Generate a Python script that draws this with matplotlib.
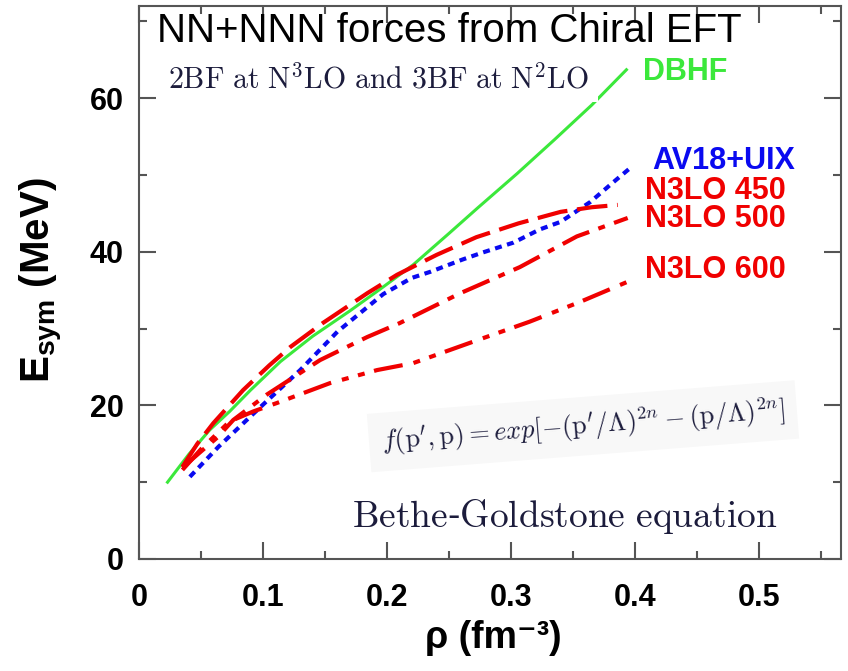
import matplotlib
matplotlib.use("Agg")
import matplotlib.pyplot as plt
from matplotlib.ticker import MultipleLocator

plt.rcParams['font.family'] = ['Liberation Sans', 'DejaVu Sans']
plt.rcParams['mathtext.fontset'] = 'custom'
plt.rcParams['mathtext.rm'] = 'Liberation Sans:bold'
plt.rcParams['mathtext.bf'] = 'Liberation Sans:bold'
plt.rcParams['mathtext.it'] = 'Liberation Sans:bold'
plt.rcParams['lines.scale_dashes'] = False

# data
dbhf_x = [0.023, 0.040, 0.057, 0.073, 0.090, 0.114, 0.140, 0.170, 0.195, 0.221,
          0.250, 0.273, 0.305, 0.335, 0.365, 0.393]
dbhf_y = [10.0, 13.6, 16.8, 19.2, 22.0, 25.7, 29.0, 32.3, 35.2, 38.3,
          42.4, 45.7, 50.2, 54.6, 59.1, 63.7]

av18_x = [0.041, 0.064, 0.098, 0.130, 0.160, 0.197, 0.220, 0.235, 0.261, 0.277,
          0.302, 0.323, 0.340, 0.364, 0.382, 0.396]
av18_y = [10.7, 14.6, 19.8, 24.6, 29.6, 34.5, 36.6, 37.4, 39.0, 39.9,
          41.2, 42.9, 43.9, 46.5, 49.0, 50.9]

n450_x = [0.035, 0.047, 0.060, 0.084, 0.105, 0.122, 0.148, 0.184, 0.208, 0.240,
          0.272, 0.306, 0.340, 0.365, 0.386]
n450_y = [12.0, 15.0, 17.7, 22.0, 25.2, 27.6, 30.7, 34.6, 37.0, 39.6,
          41.9, 43.7, 45.2, 45.8, 46.1]

n500_x = [0.035, 0.050, 0.063, 0.076, 0.103, 0.146, 0.184, 0.210, 0.259, 0.307,
          0.353, 0.394]
n500_y = [11.9, 14.0, 15.8, 18.1, 21.4, 25.9, 28.9, 30.7, 34.6, 38.0, 42.0, 44.4]

n600_x = [0.035, 0.050, 0.073, 0.092, 0.111, 0.154, 0.192, 0.221, 0.273, 0.315,
          0.356, 0.394]
n600_y = [11.6, 14.3, 17.9, 19.2, 20.3, 22.9, 24.6, 25.5, 28.5, 30.9, 33.5, 36.1]

xticks = [0, 0.1, 0.2, 0.3, 0.4, 0.5]
xtick_labels = ['0', '0.1', '0.2', '0.3', '0.4', '0.5']
yticks = [0, 20, 40, 60]
ytick_labels = ['0', '20', '40', '60']

green = '#3be83b'
blue = '#0a0af0'
red = '#f00000'
ink = '#1c1c3c'
spine_col = '#555555'

fig = plt.figure(figsize=(8.48, 6.71), dpi=100)
ax = fig.add_axes([139 / 848, 112 / 671, 702 / 848, 553 / 671])

ax.plot(dbhf_x, dbhf_y, color=green, lw=2.2, zorder=3)
ax.plot(av18_x, av18_y, color=blue, lw=3, dashes=(5, 4), zorder=3)
ax.plot(n450_x, n450_y, color=red, lw=3, dashes=(22, 7), zorder=3)
ax.plot(n500_x, n500_y, color=red, lw=3, dashes=(21, 7, 5, 7), zorder=3)
ax.plot(n600_x, n600_y, color=red, lw=3, dashes=(21, 8, 5, 7, 5, 7), zorder=3)

lab = dict(fontsize=22, fontweight='bold', va='baseline', ha='left')
ax.text(0.406, 62.4, 'DBHF', color=green, **lab)
ax.text(0.414, 50.8, 'AV18+UIX', color=blue, **lab)
ax.text(0.408, 46.9, 'N3LO 450', color=red, **lab)
ax.text(0.408, 43.2, 'N3LO 500', color=red, **lab)
ax.text(0.408, 36.6, 'N3LO 600', color=red, **lab)

ax.text(0.026, 0.935, 'NN+NNN forces from Chiral EFT', transform=ax.transAxes,
        fontsize=29, color='black', va='baseline', ha='left', zorder=6)
ax.text(0.042, 0.852, r'$\mathrm{2BF\ at\ N^3LO\ and\ 3BF\ at\ N^2LO}$',
        transform=ax.transAxes, fontsize=21.5, color=ink, math_fontfamily='cm',
        va='baseline', ha='left', zorder=5,
        bbox=dict(facecolor='white', edgecolor='none', pad=6))
ax.text(0.196, 14.2,
        r"$f(\mathrm{p}^{\prime},\mathrm{p}) = exp[-(\mathrm{p}^{\prime}/\Lambda)^{2n}"
        r" - (\mathrm{p}/\Lambda)^{2n}]$",
        fontsize=19, color=ink, math_fontfamily='cm', rotation=4.5,
        rotation_mode='anchor', va='baseline', ha='left', zorder=5,
        bbox=dict(facecolor='#f8f8f8', edgecolor='none', pad=9))
ax.text(0.172, 4.2, r'$\mathrm{Bethe}$-$\mathrm{Goldstone\ equation}$', fontsize=27,
        color=ink, math_fontfamily='cm', va='baseline', ha='left', zorder=5)

ax.set_xlim(0, 0.566)
ax.set_ylim(0, 72)
ax.set_xticks(xticks)
ax.set_xticklabels(xtick_labels)
ax.set_yticks(yticks)
ax.set_yticklabels(ytick_labels)
ax.xaxis.set_minor_locator(MultipleLocator(0.05))
ax.yaxis.set_minor_locator(MultipleLocator(10))
ax.tick_params(which='both', direction='in', top=True, right=True,
               color=spine_col, width=1.5)
ax.tick_params(which='major', length=12, labelsize=22)
ax.tick_params(which='minor', length=6)
ax.tick_params(axis='x', which='major', pad=17)
ax.tick_params(axis='y', which='major', pad=11)
for t in ax.get_xticklabels() + ax.get_yticklabels():
    t.set_fontweight('bold')
for s in ax.spines.values():
    s.set_color(spine_col)
    s.set_linewidth(1.5)

ax.set_xlabel('ρ (fm\u207b\u00b3)', fontsize=27, fontweight='bold')
ax.xaxis.set_label_coords(0.505, -0.11)
ax.set_ylabel(r'$\mathbf{E_{sym}}$ (MeV)', fontsize=29, fontweight='bold')
ax.yaxis.set_label_coords(-0.105, 0.505)

fig.savefig('out.png', dpi=100)
